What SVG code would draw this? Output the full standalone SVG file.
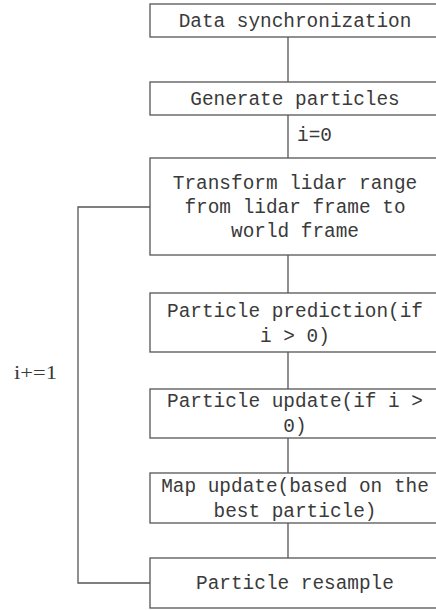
<svg xmlns="http://www.w3.org/2000/svg" width="436" height="610" viewBox="0 0 436 610">
<style>
.box{fill:#fff;stroke:#555;stroke-width:1.3}
.t{font-family:"Liberation Mono","DejaVu Sans Mono",monospace;font-size:19.4px;fill:#3a3a3a;text-anchor:middle}
.ln{fill:none;stroke:#555;stroke-width:1.3}
.lbl{font-family:"Liberation Serif","Times New Roman",serif;font-size:19px;fill:#3a3a3a}
</style>
<rect width="436" height="610" fill="#fff"/>
<g id="connectors">
<path class="ln" d="M288 37V82M288 115V158M288 255V293M288 352V389M288 438V473M288 523V558"/>
<path class="ln" d="M150 583H78V207H150"/>
<text x="297" y="141" style="font-family:'Liberation Mono',monospace;font-size:19.4px;fill:#3a3a3a">i=0</text>
<text class="lbl" x="14" y="379" textLength="43" lengthAdjust="spacingAndGlyphs">i+=1</text>
</g>
<g id="n1"><rect class="box" x="150" y="4" width="292" height="33"/><text class="t" x="295" y="27">Data synchronization</text></g>
<g id="n2"><rect class="box" x="150" y="82" width="292" height="33"/><text class="t" x="295" y="105">Generate particles</text></g>
<g id="n3"><rect class="box" x="150" y="158" width="292" height="97"/><text class="t" x="295" y="189">Transform lidar range</text><text class="t" x="295" y="213">from lidar frame to</text><text class="t" x="295" y="237">world frame</text></g>
<g id="n4"><rect class="box" x="150" y="293" width="292" height="59"/><text class="t" x="295" y="317">Particle prediction(if</text><text class="t" x="295" y="342">i &gt; 0)</text></g>
<g id="n5"><rect class="box" x="150" y="389" width="292" height="49"/><text class="t" x="295" y="407">Particle update(if i &gt;</text><text class="t" x="295" y="432">0)</text></g>
<g id="n6"><rect class="box" x="150" y="473" width="292" height="50"/><text class="t" x="295" y="492">Map update(based on the</text><text class="t" x="295" y="517">best particle)</text></g>
<g id="n7"><rect class="box" x="150" y="558" width="292" height="50"/><text class="t" x="295" y="589">Particle resample</text></g>
</svg>
